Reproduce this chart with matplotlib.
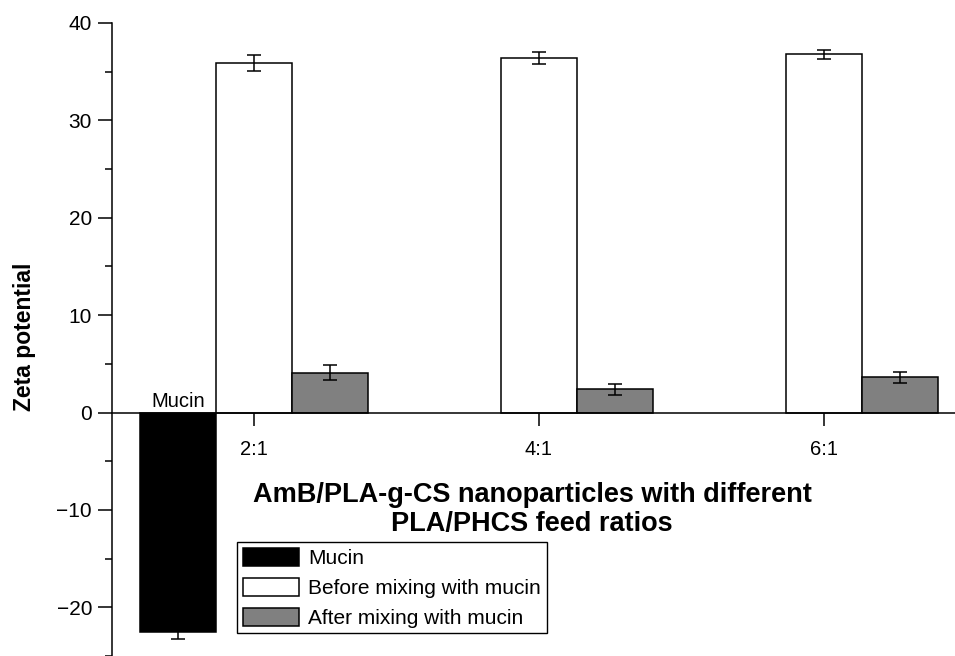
import matplotlib
matplotlib.use("Agg")
import matplotlib.pyplot as plt
import numpy as np

plt.rcParams['font.family'] = ['Liberation Sans', 'DejaVu Sans']

categories = ["2:1", "4:1", "6:1"]
mucin_value = -22.5
mucin_err = 0.8
before_values = [35.9, 36.4, 36.8]
before_errs = [0.8, 0.6, 0.45]
after_values = [4.1, 2.4, 3.6]
after_errs = [0.75, 0.55, 0.55]
yticks = [-20, -10, 0, 10, 20, 30, 40]

fig = plt.figure(figsize=(9.55, 6.56), dpi=100)
ax = fig.add_axes([111.5/955, 0.0, 1 - 111.5/955, 1 - 23/656])

x = np.arange(1, len(categories) + 1)
w = 0.267
lw = 1.1
ekw = dict(elinewidth=1.1, capthick=1.1)

ax.bar(1 - w, mucin_value, width=w, color='black', edgecolor='black', linewidth=lw,
       yerr=mucin_err, capsize=5, error_kw=ekw, label='Mucin', zorder=2)
ax.bar(x, before_values, width=w, color='white', edgecolor='black', linewidth=lw,
       yerr=before_errs, capsize=5, error_kw=ekw, label='Before mixing with mucin', zorder=2)
ax.bar(x + w, after_values, width=w, color='#808080', edgecolor='black', linewidth=lw,
       yerr=after_errs, capsize=5, error_kw=ekw, label='After mixing with mucin', zorder=2)

ax.text(1 - w, 0.15, 'Mucin', ha='center', va='bottom', fontsize=14.5)

ax.set_xlim(0.5, 3.46)
ax.set_ylim(-25, 40)
ax.spines['top'].set_visible(False)
ax.spines['right'].set_visible(False)
ax.spines['bottom'].set_position(('data', 0))
ax.spines['bottom'].set_zorder(3)
for s in ['left', 'bottom']:
    ax.spines[s].set_linewidth(1.1)

ax.set_xticks(x)
ax.set_xticklabels(categories, fontsize=14.5)
ax.tick_params(axis='x', direction='out', length=9, width=1.1, pad=11)
ax.set_yticks(yticks)
ax.set_yticklabels([f"{t}".replace('-', '\u2212') for t in yticks], fontsize=15)
ax.set_yticks(np.arange(-25, 41, 5), minor=True)
ax.tick_params(axis='y', which='major', direction='out', length=10, width=1.1, pad=4)
ax.tick_params(axis='y', which='minor', direction='out', length=5, width=1.1)

ax.set_ylabel('Zeta potential', fontsize=16.5, fontweight='bold')
ax.yaxis.set_label_coords(-0.09, (656 - 337) / 633)

ax.text((532 - 111.5) / (955 - 111.5), (656 - 509) / 633,
        'AmB/PLA-g-CS nanoparticles with different\nPLA/PHCS feed ratios',
        transform=ax.transAxes, ha='center', va='center', fontsize=19.5, fontweight='bold',
        linespacing=1.15)

leg = ax.legend(loc='upper left', bbox_to_anchor=((237 - 111.5) / 843.5, (656 - 542) / 633),
                borderaxespad=0, fontsize=15, frameon=True, fancybox=False,
                edgecolor='black', framealpha=1, handlelength=2.7, handleheight=0.96,
                labelspacing=0.47, handletextpad=0.45, borderpad=0.27)
leg.get_frame().set_linewidth(1.0)

fig.savefig('out.png', dpi=100)
